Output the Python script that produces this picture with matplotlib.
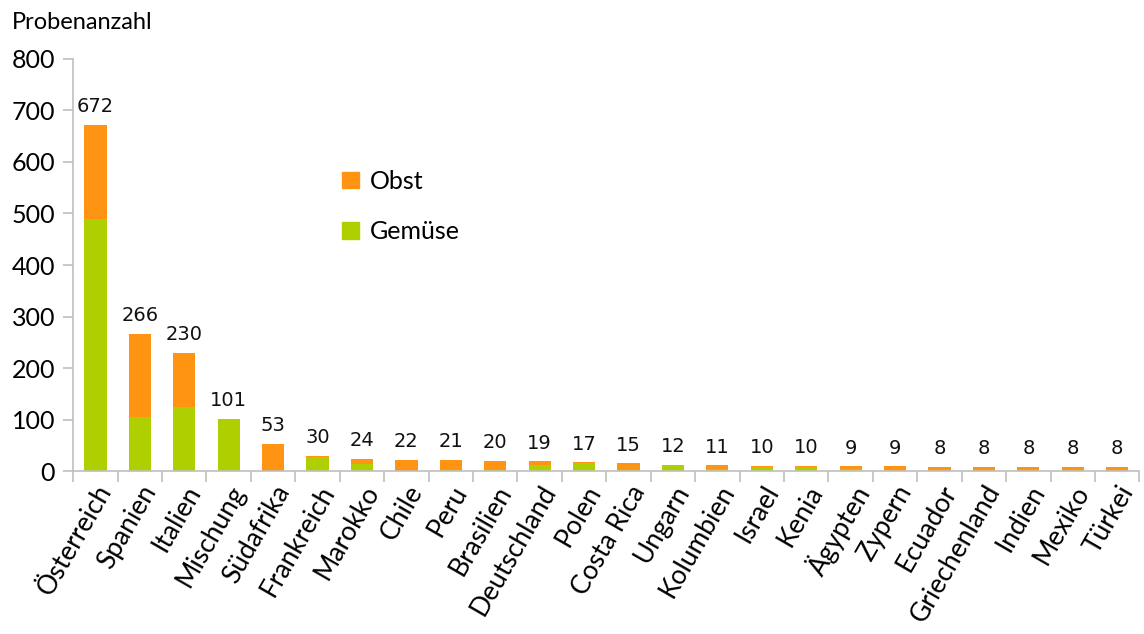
import numpy as np
import matplotlib.pyplot as plt
from matplotlib.patches import Patch

laender = ['Österreich', 'Spanien', 'Italien', 'Mischung', 'Südafrika', 'Frankreich',
           'Marokko', 'Chile', 'Peru', 'Brasilien', 'Deutschland', 'Polen', 'Costa Rica',
           'Ungarn', 'Kolumbien', 'Israel', 'Kenia', 'Ägypten', 'Zypern', 'Ecuador',
           'Griechenland', 'Indien', 'Mexiko', 'Türkei']
gemuese = [489, 104, 124, 101, 0, 28, 14, 0, 2, 2, 12, 15, 2, 12, 4, 8, 7, 4, 0, 0, 0, 0, 0, 0]
obst = [183, 162, 106, 0, 53, 2, 10, 22, 19, 18, 7, 2, 13, 0, 7, 2, 3, 5, 9, 8, 8, 8, 8, 8]
gesamt = [672, 266, 230, 101, 53, 30, 24, 22, 21, 20, 19, 17, 15, 12, 11, 10, 10, 9, 9, 8, 8, 8, 8, 8]

orange = '#FF9412'
gruen = '#AFCF00'
grau = '#BFBFBF'

fig = plt.figure(figsize=(11.44, 6.34), dpi=100)
ax = fig.add_axes([0.064, 0.257, 0.932, 0.65])

x = np.arange(len(laender))
ax.bar(x, gemuese, width=0.5, color=gruen)
ax.bar(x, obst, width=0.5, bottom=gemuese, color=orange)

for i, v in enumerate(gesamt):
    ax.text(i, v + 17, str(v), ha='center', va='bottom', fontsize=14,
            family='DejaVu Sans', color='#111111')

ax.set_xlim(-0.5, len(laender) - 0.5)
ax.set_ylim(0, 800)
ax.set_yticks(range(0, 801, 100))
ax.set_xticks(x)
ax.set_xticklabels(laender, rotation=60, ha='right', rotation_mode='anchor',
                   fontsize=19, family='Lato')
ax.set_xticks(np.arange(-0.5, len(laender), 1), minor=True)
ax.tick_params(axis='x', which='major', length=0, pad=7)
ax.tick_params(axis='x', which='minor', length=8, color=grau, width=1.2)
ax.tick_params(axis='y', length=7, color=grau, width=1.2, labelsize=18, pad=6)
for lab in ax.get_yticklabels():
    lab.set_family('Lato')

for s in ['top', 'right']:
    ax.spines[s].set_visible(False)
for s in ['left', 'bottom']:
    ax.spines[s].set_color(grau)
    ax.spines[s].set_linewidth(1.2)

fig.text(0.01, 0.965, 'Probenanzahl', fontsize=17, family='Lato', va='center')

handles = [Patch(color=orange, label='Obst'), Patch(color=gruen, label='Gemüse')]
ax.legend(handles=handles, loc='upper left', bbox_to_anchor=(0.243, 0.755), frameon=False,
          prop={'family': 'Lato', 'size': 18}, handlelength=0.65, handleheight=0.65,
          handletextpad=0.45, labelspacing=1.1, borderaxespad=0)

fig.savefig('out.png', dpi=100)
